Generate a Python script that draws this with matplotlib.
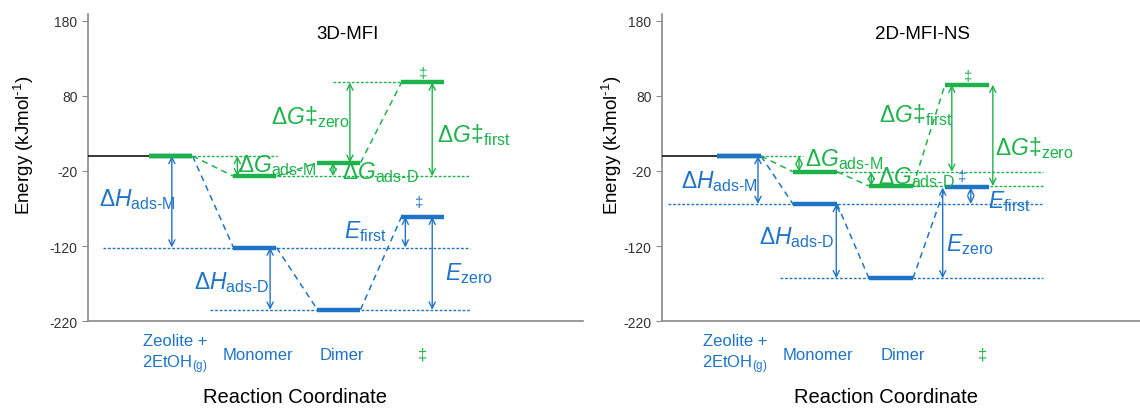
import numpy as np
import matplotlib.pyplot as plt

plt.rcParams['font.family'] = ['Liberation Sans', 'DejaVu Sans']
plt.rcParams['mathtext.fontset'] = 'custom'
plt.rcParams['mathtext.rm'] = 'Liberation Sans'
plt.rcParams['mathtext.it'] = 'Liberation Sans:italic'
plt.rcParams['mathtext.bf'] = 'Liberation Sans:bold'
plt.rcParams['axes.unicode_minus'] = False

# reaction coordinate states
states = ['Zeolite +\n2EtOH$_{\\text{(g)}}$', 'Monomer', 'Dimer', '‡']

# energies in kJ/mol
H_3d = [0, -122, -205, -81]   # enthalpy (blue)
G_3d = [0, -27, -9, 98]       # free energy (green)
H_2d = [0, -64, -163, -42]
G_2d = [0, -21, -40, 95]

BLUE = '#1f74c8'
GREEN = '#1eb24b'
AXC = '#8a8a8a'

lbl_HM = r'$\Delta H_{\text{ads-M}}$'
lbl_HD = r'$\Delta H_{\text{ads-D}}$'
lbl_GM = r'$\Delta G_{\text{ads-M}}$'
lbl_GD = r'$\Delta G_{\text{ads-D}}$'
lbl_Gz = r'$\Delta G‡_{\text{zero}}$'
lbl_Gf = r'$\Delta G‡_{\text{first}}$'
lbl_Ef = r'$E_{\text{first}}$'
lbl_Ez = r'$E_{\text{zero}}$'

panels = [
    dict(title='3D-MFI', H=H_3d, G=G_3d, rect=[0.0772, 0.2146, 0.4342, 0.7488],
         xlim=(0.012, 5.905), hw=0.256, top='G', title_x=3.1, xlab_x=2.48,
         cat_x=[1.05, 2.04, 3.04, 4.0], ylab_x=24 / 1140,
         dotted=[('H', 1, 0.19, 4.56), ('H', 2, 1.46, 4.56), ('G', 0, 1.26, 2.26),
                 ('G', 1, 2.27, 4.56), ('G', 3, 2.93, 3.76)],
         arrows=[('H', 0, 1, 1.01, lbl_HM, 1.06, -57, 'right'),
                 ('H', 1, 2, 2.18, lbl_HD, 2.17, -168, 'right'),
                 ('H', 3, 1, 3.79, lbl_Ef, 3.57, -100, 'right'),
                 ('H', 3, 2, 4.11, lbl_Ez, 4.26, -155, 'left'),
                 ('G', 0, 1, 1.79, lbl_GM, 1.80, -11, 'left'),
                 ('G', 1, 2, 2.93, lbl_GD, 3.03, -21, 'left'),
                 ('G', 3, 2, 3.13, lbl_Gz, 3.13, 53, 'right'),
                 ('G', 3, 1, 4.11, lbl_Gf, 4.17, 29, 'left')],
         dag=[('G', 4.0, 111), ('H', 3.95, -61)]),
    dict(title='2D-MFI-NS', H=H_2d, G=G_2d, rect=[0.5807, 0.2146, 0.4193, 0.7488],
         xlim=(-0.013, 6.276), hw=0.29, top='H', title_x=3.42, xlab_x=2.93,
         cat_x=[0.95, 2.04, 3.16, 4.2], ylab_x=612 / 1140,
         dotted=[('H', 1, 0.07, 5.0), ('H', 2, 1.54, 5.0), ('G', 0, 1.29, 1.84),
                 ('G', 1, 2.28, 5.0), ('G', 2, 3.28, 5.0)],
         arrows=[('H', 0, 1, 1.25, lbl_HM, 1.25, -33, 'right'),
                 ('H', 1, 2, 2.28, lbl_HD, 2.26, -108, 'right'),
                 ('H', 3, 2, 3.68, lbl_Ez, 3.72, -117, 'left'),
                 ('H', 3, 1, 4.05, lbl_Ef, 4.28, -60, 'left'),
                 ('G', 0, 1, 1.79, lbl_GM, 1.87, -3, 'left'),
                 ('G', 1, 2, 2.74, lbl_GD, 2.83, -28, 'left'),
                 ('G', 3, 1, 3.80, lbl_Gf, 3.81, 56, 'right'),
                 ('G', 3, 2, 4.34, lbl_Gz, 4.37, 12, 'left')],
         dag=[('G', 4.01, 107), ('H', 3.93, -27)]),
]

fig = plt.figure(figsize=(11.4, 4.1), dpi=100)
xs = np.arange(1, len(states) + 1)

for p in panels:
    ax = fig.add_axes(p['rect'])
    ax.set_xlim(*p['xlim'])
    ax.set_ylim(-220, 189.3)
    ser = {'H': (p['H'], BLUE), 'G': (p['G'], GREEN)}
    hw = p['hw']

    # baseline from the axis to the starting state
    ax.plot([p['xlim'][0], xs[0] - hw], [0, 0], color='black', lw=1.1, zorder=3)

    # dotted reference levels
    for s, i, x0, x1 in p['dotted']:
        vals, c = ser[s]
        ax.plot([x0, x1], [vals[i], vals[i]], color=c, lw=1.0,
                ls=(0, (2, 1.3)), zorder=2)

    # dashed connectors and level bars
    order = ['H', 'G'] if p['top'] == 'G' else ['G', 'H']
    for k, s in enumerate(order):
        vals, c = ser[s]
        for i in range(len(xs) - 1):
            ax.plot([xs[i] + hw, xs[i + 1] - hw], [vals[i], vals[i + 1]],
                    color=c, lw=1.1, ls=(0, (4, 3)), zorder=3)
        for i in range(len(xs)):
            ax.plot([xs[i] - hw, xs[i] + hw], [vals[i], vals[i]], color=c,
                    lw=3.2, solid_capstyle='butt', zorder=5 + k)

    # double-headed arrows with labels
    for s, i0, i1, x, lab, tx, ty, ha in p['arrows']:
        vals, c = ser[s]
        ax.annotate('', xy=(x, vals[i1]), xytext=(x, vals[i0]),
                    arrowprops=dict(arrowstyle='<->', color=c, lw=1.0,
                                    mutation_scale=11, shrinkA=0, shrinkB=0),
                    zorder=4)
        ax.text(tx, ty, lab, color=c, fontsize=16.5, ha=ha, va='center', zorder=8)

    for s, x, y in p['dag']:
        ax.text(x, y, '‡', color=ser[s][1], fontsize=11, ha='center', va='center')

    ax.text(p['title_x'], 163, p['title'], fontsize=13.5, ha='center', va='center')

    # category labels below the axis
    for i, name in enumerate(states):
        col = GREEN if name == '‡' else BLUE
        ax.text(p['cat_x'][i], -264, name, color=col, fontsize=12, ha='center',
                va='center', linespacing=1.3, clip_on=False)
    ax.text(p['xlab_x'], -321, 'Reaction Coordinate', fontsize=14.5,
            ha='center', va='center', clip_on=False)
    fig.text(p['ylab_x'], 1 - 145 / 410, 'Energy (kJmol$^{\\text{-1}}$)',
             rotation=90, fontsize=13.5, ha='center', va='center')

    ax.set_yticks([-220, -120, -20, 80, 180])
    ax.set_xticks([])
    ax.tick_params(axis='y', direction='out', length=4, color=AXC,
                   labelsize=10, labelcolor='#333333')
    for side in ['top', 'right']:
        ax.spines[side].set_visible(False)
    for side in ['left', 'bottom']:
        ax.spines[side].set_color(AXC)
        ax.spines[side].set_linewidth(1.2)
    ax.patch.set_alpha(0)

fig.savefig('out.png', dpi=100)
